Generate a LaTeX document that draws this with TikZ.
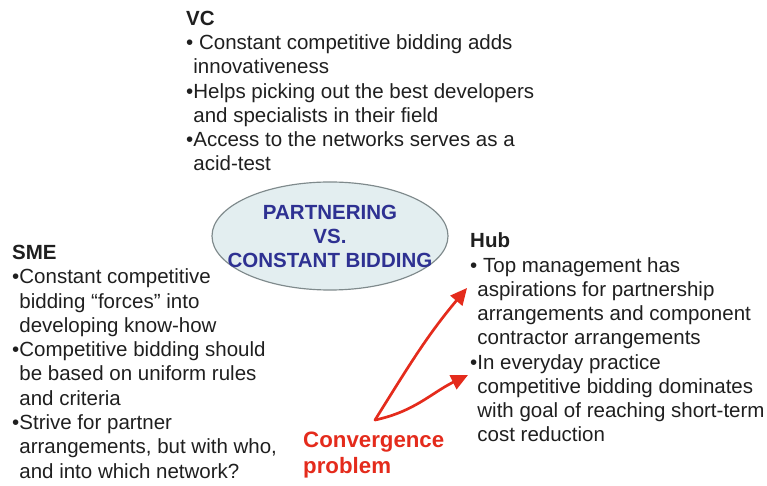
\documentclass[tikz,border=0pt]{standalone}
\usepackage{fontspec}
\setmainfont{Liberation Sans}
\usetikzlibrary{arrows.meta, shapes.geometric, positioning}
\definecolor{ovaltext}{HTML}{2E3192}
\definecolor{ovalfill}{HTML}{E3EEF0}
\definecolor{ovalline}{HTML}{7F8A8C}
\definecolor{convred}{HTML}{E42B1C}
\newcommand{\bulind}{\hphantom{\textbullet}}
\tikzset{
  % blocco di testo: titolo e punti (ancorato all'ultima riga)
  textblock/.style={anchor=base west, align=left, inner sep=0pt, text=black!88,
    font=\fontsize{17.5}{20.7}\selectfont},
  % ovale centrale
  oval/.style={ellipse, draw=ovalline, line width=1pt, fill=ovalfill,
    minimum width=7.08cm, minimum height=3.24cm, inner sep=0pt},
  ovallbl/.style={align=center, inner sep=0pt, text=ovaltext,
    font=\fontsize{17.5}{20.5}\selectfont\bfseries},
  % etichetta rossa
  convlbl/.style={anchor=base west, align=left, inner sep=0pt, text=convred,
    font=\fontsize{19}{23}\selectfont\bfseries},
  % freccia rossa
  convarrow/.style={-{Triangle[length=5mm, width=4.6mm]}, line width=2.3pt, convred,
    line cap=round},
}

\begin{document}
\begin{tikzpicture}
  \useasboundingbox (0,0) rectangle (23.01,14.58);
  \node[oval] (oval) at (9.9,7.5) {};
  \node[ovallbl] (ovaltxt) at (oval.center) {PARTNERING\\VS.\\CONSTANT BIDDING};
  \node[textblock] (vc) at (5.58,9.45) {\textbf{VC}\\
    \textbullet\ Constant competitive bidding adds\\
    \bulind innovativeness\\
    \textbullet Helps picking out the best developers\\
    \bulind and specialists in their field\\
    \textbullet Access to the networks serves as a\\
    \bulind acid-test};
  \node[textblock] (sme) at (0.36,0.24) {\textbf{SME}\\
    \textbullet Constant competitive\\
    \bulind bidding “forces” into\\
    \bulind developing know-how\\
    \textbullet Competitive bidding should\\
    \bulind be based on uniform rules\\
    \bulind and criteria\\
    \textbullet Strive for partner\\
    \bulind arrangements, but with who,\\
    \bulind and into which network?};
  \node[textblock] (hub) at (14.10,1.32) {\textbf{Hub}\\
    \textbullet\ Top management has\\
    \bulind aspirations for partnership\\
    \bulind arrangements and component\\
    \bulind contractor arrangements\\
    \textbullet In everyday practice\\
    \bulind competitive bidding dominates\\
    \bulind with goal of reaching short-term\\
    \bulind cost reduction};
  \node[convlbl] (conv) at (9.09,0.36) {Convergence\\problem};
  \coordinate (fork) at (11.25,1.98);
  \coordinate (aspir) at (14.01,5.94);
  \coordinate (practice) at (14.04,3.33);
  \draw[convarrow] (fork) to[out=58, in=230] (aspir);
  \draw[convarrow] (fork) to[out=12, in=206] (practice);
\end{tikzpicture}
\end{document}
